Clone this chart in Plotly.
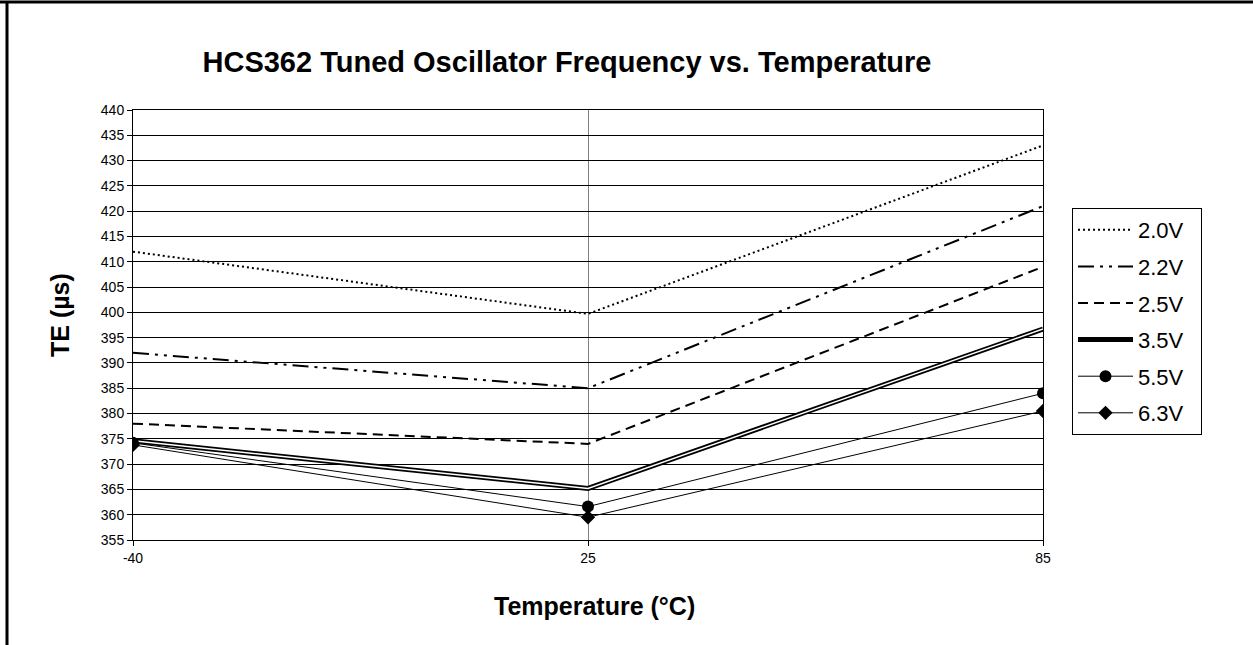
import plotly.graph_objects as go

temps = ["-40", "25", "85"]
v20 = [412.0, 399.7, 433.0]
v22 = [392.0, 385.0, 421.0]
v25 = [378.0, 374.0, 409.0]
v35 = [374.6, 365.2, 396.7]
v55 = [374.2, 361.6, 384.0]
v63 = [373.8, 359.5, 380.5]
names = ["2.0V", "2.2V", "2.5V", "3.5V", "5.5V", "6.3V"]
yticks = list(range(355, 441, 5))

W, H = 1253, 645
L, R, T, B = 133, 1043, 110, 540
pad = "\u00a0\u00a0"

fig = go.Figure()
fig.add_trace(go.Scatter(x=temps, y=v20, name=names[0] + pad, mode="lines", legendgroup="a",
                         line=dict(color="black", width=2, dash="2px,3px")))
fig.add_trace(go.Scatter(x=temps, y=v22, name=names[1] + pad, mode="lines", legendgroup="b",
                         line=dict(color="black", width=2, dash="16px,6px,3px,6px,3px,6px")))
fig.add_trace(go.Scatter(x=temps, y=v25, name=names[2] + pad, mode="lines", legendgroup="c",
                         line=dict(color="black", width=2, dash="10px,6px")))
fig.add_trace(go.Scatter(x=temps, y=v35, name=names[3] + pad, mode="lines", legendgroup="d",
                         line=dict(color="black", width=5)))
fig.add_trace(go.Scatter(x=temps, y=v35, name=names[3], mode="lines", legendgroup="d",
                         showlegend=False, hoverinfo="skip",
                         line=dict(color="white", width=1.5)))
fig.add_trace(go.Scatter(x=temps, y=v55, name=names[4] + pad, mode="lines+markers", legendgroup="e",
                         line=dict(color="black", width=1),
                         marker=dict(symbol="circle", size=12, color="black")))
fig.add_trace(go.Scatter(x=temps, y=v63, name=names[5] + pad, mode="lines+markers", legendgroup="f",
                         line=dict(color="black", width=1),
                         marker=dict(symbol="diamond", size=11, color="black")))

def px(x):
    return (x - L) / (R - L)

def py(y):
    return (B - y) / (B - T)

shapes = [
    dict(type="line", xref="paper", yref="paper", x0=px(0), x1=px(W), y0=py(2), y1=py(2),
         line=dict(color="black", width=3)),
    dict(type="line", xref="paper", yref="paper", x0=px(7), x1=px(7), y0=py(1), y1=py(H),
         line=dict(color="black", width=3)),
]
annotations = [
    dict(text="<b>Temperature (°C)</b>", xref="paper", yref="paper", x=px(594), y=py(606),
         xanchor="center", yanchor="middle", showarrow=False, font=dict(size=25)),
    dict(text="<b>TE (µs)</b>", xref="paper", yref="paper", x=px(60), y=py(315),
         xanchor="center", yanchor="middle", showarrow=False, textangle=-90,
         font=dict(size=25)),
]
fig.update_layout(
    width=W, height=H,
    margin=dict(l=L, r=W - R, t=T, b=H - B),
    paper_bgcolor="white", plot_bgcolor="white",
    font=dict(family="Arial, Liberation Sans, sans-serif", color="black"),
    title=dict(text="<b>HCS362 Tuned Oscillator Frequency vs. Temperature</b>",
               x=567 / W, xanchor="center", y=1 - 62 / H, yanchor="middle",
               font=dict(size=29)),
    xaxis=dict(type="category", categoryorder="array", categoryarray=temps,
               range=[0, 2], showline=True, linecolor="black", linewidth=1, mirror=True,
               showgrid=True, gridcolor="#808080", gridwidth=1, automargin=False,
               ticks="outside", ticklen=5, tickcolor="black",
               tickfont=dict(size=14)),
    yaxis=dict(range=[355, 440], tickvals=yticks, showline=True, linecolor="black",
               linewidth=1, mirror=True, showgrid=True, gridcolor="black", gridwidth=1,
               ticks="outside", ticklen=5, tickcolor="black", tickfont=dict(size=14),
               zeroline=False, automargin=False),
    legend=dict(x=px(1072), y=py(208), xanchor="left", yanchor="top",
                bordercolor="black", borderwidth=1, bgcolor="white",
                font=dict(size=22), tracegroupgap=5, itemwidth=55),
    shapes=shapes,
    annotations=annotations,
    showlegend=True,
)
fig.write_html("out.html", config={"displayModeBar": False},
               post_script="document.body.style.margin='0px';document.body.style.overflow='hidden';")
